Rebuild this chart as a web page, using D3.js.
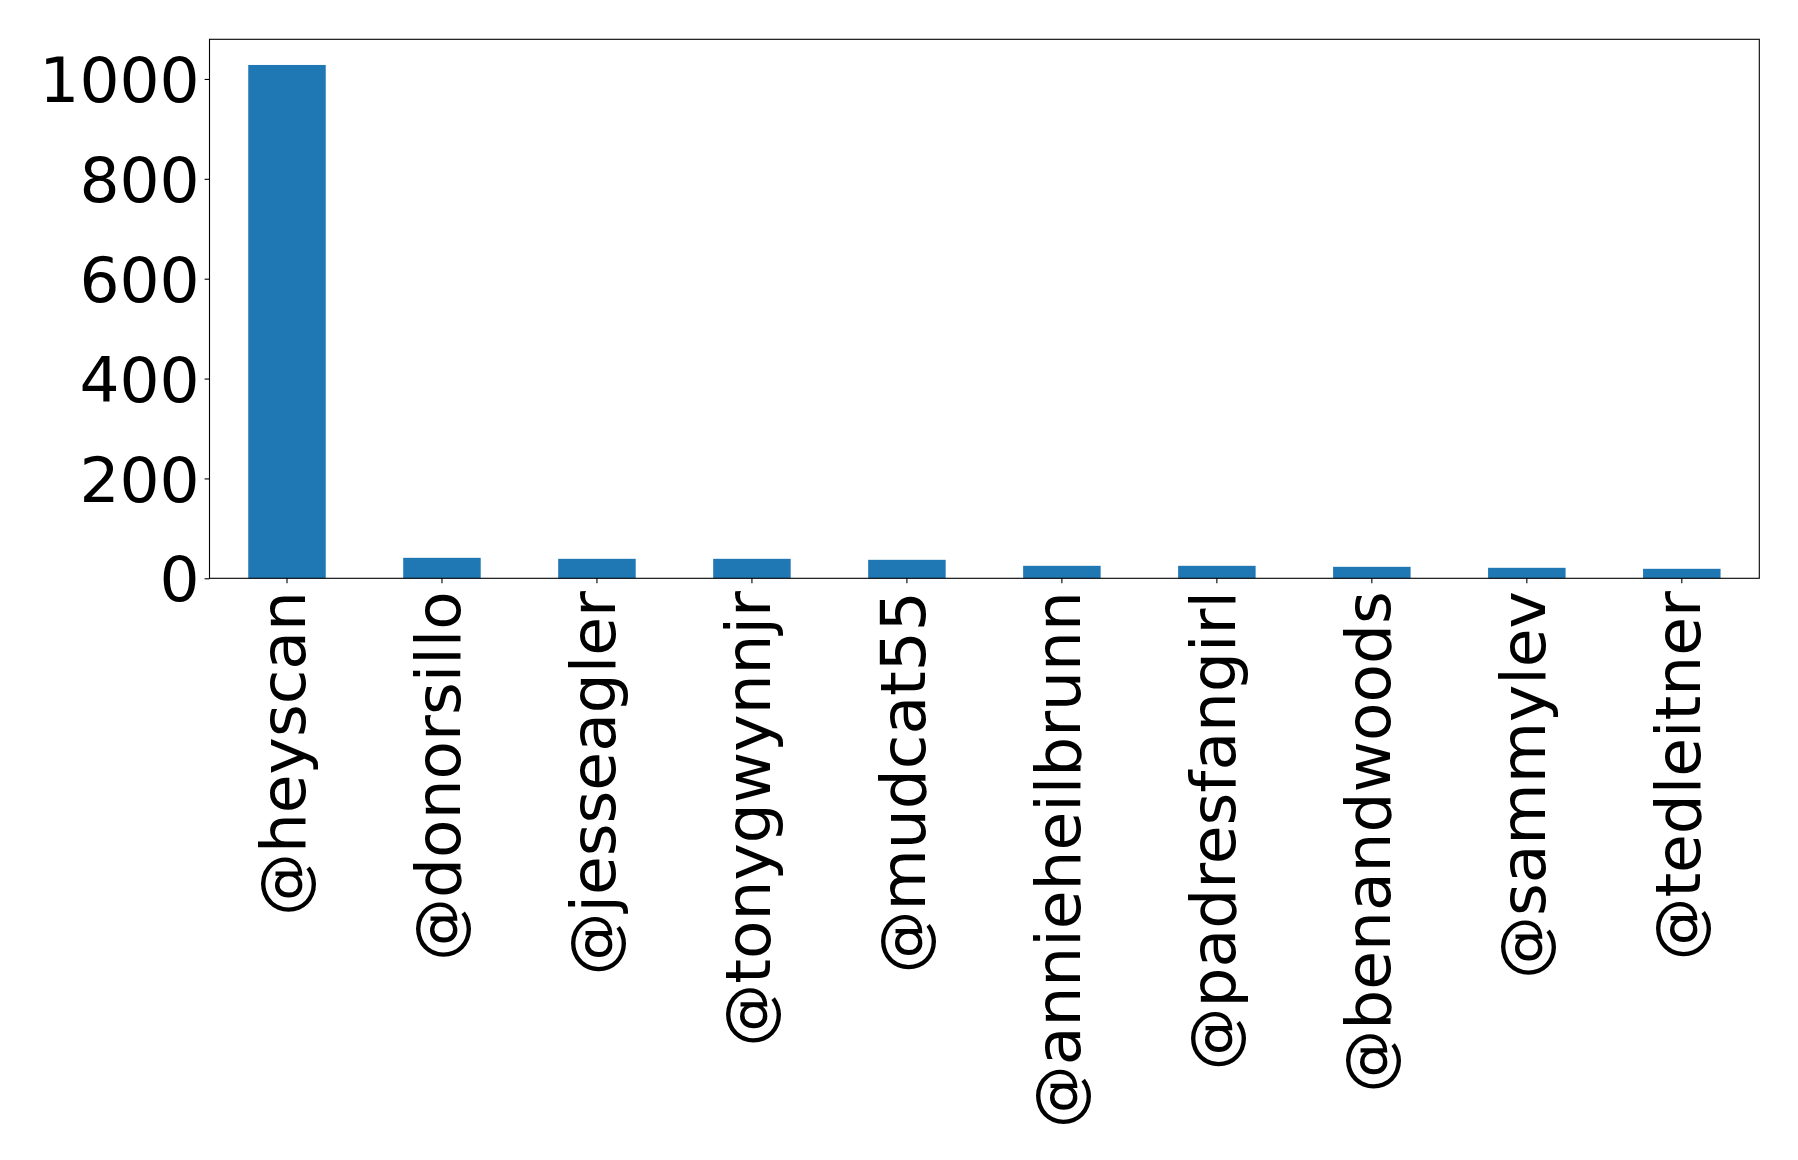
<!DOCTYPE html>
<html>
<head>
<meta charset="utf-8">
<script src="https://cdn.jsdelivr.net/npm/d3@7"></script>
<style>
    html, body { margin: 0; padding: 0; background: #fff; }
    svg { display: block; font-family: "DejaVu Sans", sans-serif; }
</style>
</head>
<body>
<div id="chart"></div>
<script>
const users = ["@heyscan", "@donorsillo", "@jesseagler", "@tonygwynnjr", "@mudcat55",
    "@annieheilbrunn", "@padresfangirl", "@benandwoods", "@sammylev", "@tedleitner"];
const counts = [1028, 41, 39, 39, 37, 25, 25, 23, 21, 19];
const yTicks = [0, 200, 400, 600, 800, 1000];

const width = 1798;
const height = 1160;
const margin = {top: 39.3, right: 1798 - 1759.3, bottom: 1160 - 578.3, left: 209.5};
const fontSize = 63;
const tickLen = 4.9;
const tickPad = 4.9;

const svg = d3.select("#chart")
    .append("svg")
    .attr("width", width)
    .attr("height", height);

const x = d3.scaleBand()
    .domain(users)
    .range([margin.left, width - margin.right])
    .paddingInner(0.5)
    .paddingOuter(0.25);

const y = d3.scaleLinear()
    .domain([0, d3.max(counts) * 1.05])
    .range([height - margin.bottom, margin.top]);

// bars
svg.append("g")
    .selectAll("rect")
    .data(users)
    .join("rect")
    .attr("x", d => x(d))
    .attr("width", x.bandwidth())
    .attr("y", (d, i) => y(counts[i]))
    .attr("height", (d, i) => y(0) - y(counts[i]))
    .attr("fill", "#1f77b4");

// y axis
const yAxis = svg.append("g")
    .attr("transform", `translate(${margin.left},0)`)
    .call(d3.axisLeft(y).tickValues(yTicks).tickSize(tickLen).tickPadding(tickPad).tickFormat(d3.format("d")));
yAxis.select(".domain").remove();
yAxis.selectAll("line").attr("stroke", "#000").attr("stroke-width", 1.1);
yAxis.selectAll("text")
    .attr("font-size", fontSize)
    .attr("font-family", "DejaVu Sans")
    .attr("fill", "#000")
    .attr("dy", "0.36em");

// x axis, labels turned upright like the original
const xAxis = svg.append("g")
    .attr("transform", `translate(0,${height - margin.bottom})`)
    .call(d3.axisBottom(x).tickSize(tickLen).tickSizeOuter(0));
xAxis.select(".domain").remove();
xAxis.selectAll("line").attr("stroke", "#000").attr("stroke-width", 1.1);
xAxis.selectAll("text")
    .attr("font-size", fontSize)
    .attr("font-family", "DejaVu Sans")
    .attr("fill", "#000")
    .attr("text-anchor", "end")
    .attr("y", 0)
    .attr("dy", "0.29em")
    .attr("transform", `translate(0,${tickLen + tickPad + 3}) rotate(-90)`);

// frame
svg.append("rect")
    .attr("x", margin.left)
    .attr("y", margin.top)
    .attr("width", width - margin.left - margin.right)
    .attr("height", height - margin.top - margin.bottom)
    .attr("fill", "none")
    .attr("stroke", "#000")
    .attr("stroke-width", 1.1);
</script>
</body>
</html>
